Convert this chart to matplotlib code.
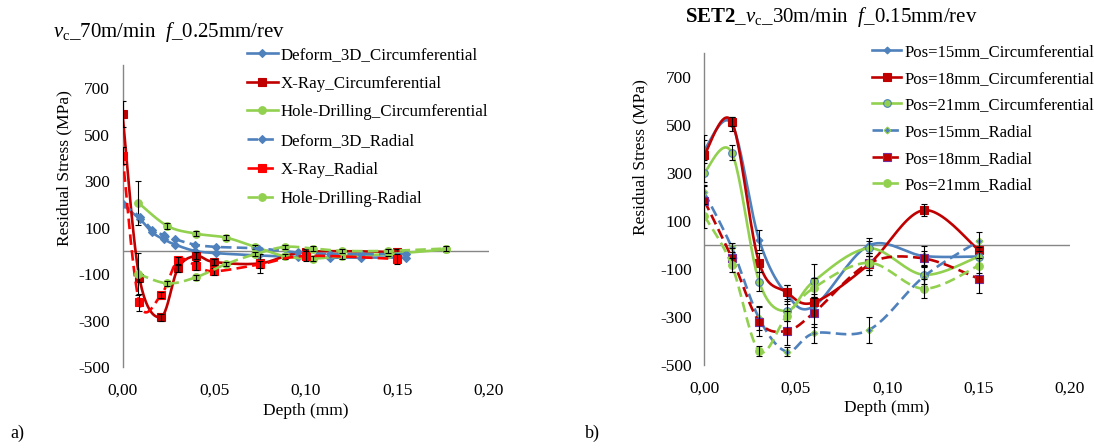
import numpy as np
import matplotlib.pyplot as plt
from matplotlib.lines import Line2D
from matplotlib.ticker import FuncFormatter

plt.rcParams['font.family'] = ['Liberation Serif', 'DejaVu Serif']
plt.rcParams['mathtext.fontset'] = 'custom'
plt.rcParams['mathtext.rm'] = 'Liberation Serif'
plt.rcParams['mathtext.it'] = 'Liberation Serif:italic'
plt.rcParams['mathtext.bf'] = 'Liberation Serif:bold'
plt.rcParams['axes.unicode_minus'] = False

# ---- panel a) data ----
dfm_depth = [0, 0.0096, 0.0163, 0.0226, 0.0287, 0.0393, 0.0511, 0.0747, 0.0958, 0.113, 0.130, 0.1546]
dfm_circ = [200, 136, 79, 49, 27, 0, -10, -20, -26, -29, -29, -29]
dfm_rad = [200, 146, 91, 67, 50, 27, 17, 10, -7, -14, -14, -14]

xray_depth = [0, 0.0092, 0.021, 0.0303, 0.0402, 0.050, 0.075, 0.100, 0.150]
xray_circ = [590, -115, -285, -75, -22, -48, -54, -5, -5]
xray_circ_err = [55, 20, 15, 15, 15, 15, 40, 15, 15]
xray_rad = [410, -222, -190, -40, -64, -88, -58, -22, -35]
xray_rad_err = [35, 35, 15, 15, 20, 15, 15, 20, 20]

hd_depth = [0.0086, 0.0245, 0.040, 0.0565, 0.0724, 0.0885, 0.104, 0.120, 0.145, 0.1766]
hd_circ = [207, 107, 74, 57, 17, -23, -33, -23, -14, 6]
hd_circ_err = [95, 15, 12, 12, 10, 10, 10, 10, 10, 10]
hd_rad = [-100, -140, -114, -57, -14, 17, 10, 0, 0, 10]
hd_rad_err = [90, 10, 10, 10, 10, 10, 10, 10, 10, 10]

# ---- panel b) data ----
pos_depth = [0, 0.015, 0.03, 0.045, 0.06, 0.09, 0.12, 0.15]
p15_circ = [396, 505, 21, -205, -255, -2, -46, -48]
p18_circ = [375, 514, -74, -197, -239, -80, 145, -20]
p21_circ = [301, 385, -153, -275, -150, -14, -124, -48]
p15_rad = [219, -10, -306, -444, -368, -354, -132, 16]
p18_rad = [185, -53, -319, -358, -282, -76, -56, -140]
p21_rad = [122, -83, -442, -296, -178, -74, -182, -86]
p15_circ_err = [40, 30, 40, 40, 40, 30, 40, 40]
p18_circ_err = [85, 20, 40, 30, 35, 45, 25, 40]
p21_circ_err = [40, 30, 40, 40, 70, 30, 40, 40]
p15_rad_err = [30, 20, 50, 20, 40, 55, 40, 40]
p18_rad_err = [60, 40, 60, 60, 60, 30, 30, 60]
p21_rad_err = [50, 30, 20, 20, 40, 30, 40, 30]

yticks = [700, 500, 300, 100, -100, -300, -500]
xticks = [0, 0.05, 0.10, 0.15, 0.20]

BLUE = '#4F81BD'
DRED = '#C00000'
RED = '#FF0000'
GREEN = '#92D050'
GRAY = '#868686'


def smooth(x, y, n=24):
    # Excel-like smoothed line: Catmull-Rom converted to cubic Bezier
    x = np.asarray(x, float)
    y = np.asarray(y, float)
    p = np.column_stack([x, y])
    ext = np.vstack([p[0], p, p[-1]])
    t = np.linspace(0, 1, n)[:, None]
    out = []
    for i in range(len(p) - 1):
        p0, p1, p2, p3 = ext[i], ext[i + 1], ext[i + 2], ext[i + 3]
        c1 = p1 + (p2 - p0) / 6
        c2 = p2 - (p3 - p1) / 6
        seg = ((1 - t) ** 3) * p1 + 3 * ((1 - t) ** 2) * t * c1 + 3 * (1 - t) * t ** 2 * c2 + t ** 3 * p2
        out.append(seg if i == 0 else seg[1:])
    out = np.vstack(out)
    return out[:, 0], out[:, 1]


def series(ax, x, y, err, color, ls, marker, ms, mfc, mec, z):
    sx, sy = smooth(x, y)
    dash = (0, (4, 2)) if ls == '--' else '-'
    ax.plot(sx, sy, color=color, lw=1.9, linestyle=dash, zorder=z)
    ax.plot(x, y, linestyle='none', marker=marker, ms=ms, mfc=mfc, mec=mec, mew=0.8, zorder=z + 0.5)
    if err is not None:
        ax.errorbar(x, y, yerr=err, fmt='none', ecolor='black', elinewidth=0.8,
                    capsize=2, capthick=0.8, zorder=z + 0.6)
    return Line2D([], [], color=color, lw=1.9, linestyle=dash, marker=marker,
                  ms=ms, mfc=mfc, mec=mec, mew=0.8)


def style_axes(ax):
    ax.set_xlim(0, 0.20)
    ax.set_ylim(-500, 800)
    ax.set_xticks(xticks)
    ax.set_yticks(yticks)
    ax.xaxis.set_major_formatter(FuncFormatter(lambda v, p: f'{v:.2f}'.replace('.', ',')))
    ax.tick_params(length=0, labelsize=12.5, colors='black')
    ax.tick_params(axis='y', pad=9)
    ax.tick_params(axis='x', pad=11)
    for s in ['top', 'right', 'bottom']:
        ax.spines[s].set_visible(False)
    ax.spines['left'].set_color(GRAY)
    ax.spines['left'].set_linewidth(1.0)
    ax.axhline(0, color=GRAY, lw=1.0, zorder=1)
    ax.set_xlabel('Depth (mm)', fontsize=12.5)
    ax.set_ylabel('Residual Stress (MPa)', fontsize=12.5)


fig = plt.figure(figsize=(10.94, 4.48), dpi=100)
W, H = 1094, 448

# ---- panel a ----
ax1 = fig.add_axes([122.5 / W, 1 - 367 / H, (489 - 122.5) / W, (367 - 65) / H])
style_axes(ax1)
h = []
h.append(series(ax1, dfm_depth, dfm_circ, None, BLUE, '-', 'D', 4, BLUE, BLUE, 3))
h.append(series(ax1, xray_depth, xray_circ, xray_circ_err, DRED, '-', 's', 5.5, DRED, DRED, 4))
h.append(series(ax1, hd_depth, hd_circ, hd_circ_err, GREEN, '-', 'o', 5.5, GREEN, GREEN, 5))
h.append(series(ax1, dfm_depth, dfm_rad, None, BLUE, '--', 'D', 4, BLUE, BLUE, 6))
h.append(series(ax1, xray_depth, xray_rad, xray_rad_err, RED, '--', 's', 6, RED, RED, 7))
h.append(series(ax1, hd_depth, hd_rad, hd_rad_err, GREEN, '--', 'o', 5.5, GREEN, GREEN, 8))
labels1 = ['Deform_3D_Circumferential', 'X-Ray_Circumferential', 'Hole-Drilling_Circumferential',
           'Deform_3D_Radial', 'X-Ray_Radial', 'Hole-Drilling-Radial']
fig.legend(h, labels1, loc='upper left', bbox_to_anchor=(247 / W, 1 - 47 / H), frameon=False,
           fontsize=12.2, handlelength=1.8, handletextpad=0.2, labelspacing=0.75,
           borderpad=0, borderaxespad=0, numpoints=1)
ax1.xaxis.set_label_coords(0.5, -0.118)
ax1.yaxis.set_label_coords(-0.138, 0.66)
fig.text(53 / W, 1 - 32 / H, r'$\mathit{v}_{\mathrm{c}}$_70m/min  $\mathit{f}$_0.25mm/rev',
         fontsize=15, ha='left', va='center')
fig.text(10 / W, 1 - 433 / H, 'a)', fontsize=13, ha='left', va='center')

# ---- panel b ----
ax2 = fig.add_axes([704.3 / W, 1 - 365 / H, (1070 - 704.3) / W, (365 - 53) / H])
style_axes(ax2)
h = []
h.append(series(ax2, pos_depth, p15_circ, p15_circ_err, BLUE, '-', 'D', 3.5, BLUE, BLUE, 3))
h.append(series(ax2, pos_depth, p18_circ, p18_circ_err, DRED, '-', 's', 5.5, DRED, DRED, 4))
h.append(series(ax2, pos_depth, p21_circ, p21_circ_err, GREEN, '-', 'o', 5.5, GREEN, BLUE, 5))
h.append(series(ax2, pos_depth, p15_rad, p15_rad_err, BLUE, '--', 'D', 3.5, BLUE, GREEN, 6))
h.append(series(ax2, pos_depth, p18_rad, p18_rad_err, DRED, '--', 's', 5.5, DRED, '#7030A0', 7))
h.append(series(ax2, pos_depth, p21_rad, p21_rad_err, GREEN, '--', 'o', 5.5, GREEN, GREEN, 8))
labels2 = ['Pos=15mm_Circumferential', 'Pos=18mm_Circumferential', 'Pos=21mm_Circumferential',
           'Pos=15mm_Radial', 'Pos=18mm_Radial', 'Pos=21mm_Radial']
fig.legend(h, labels2, loc='upper left', bbox_to_anchor=(872 / W, 1 - 44 / H), frameon=False,
           fontsize=12, handlelength=1.75, handletextpad=0.2, labelspacing=0.64,
           borderpad=0, borderaxespad=0, numpoints=1)
ax2.xaxis.set_label_coords(0.5, -0.113)
ax2.yaxis.set_label_coords(-0.154, 0.667)
fig.text(685 / W, 1 - 17 / H, r'$\mathbf{SET2}$_$\mathit{v}_{\mathrm{c}}$_30m/min  $\mathit{f}$_0.15mm/rev',
         fontsize=15, ha='left', va='center')
fig.text(585 / W, 1 - 433 / H, 'b)', fontsize=13, ha='left', va='center')

fig.savefig('out.png', dpi=100)
